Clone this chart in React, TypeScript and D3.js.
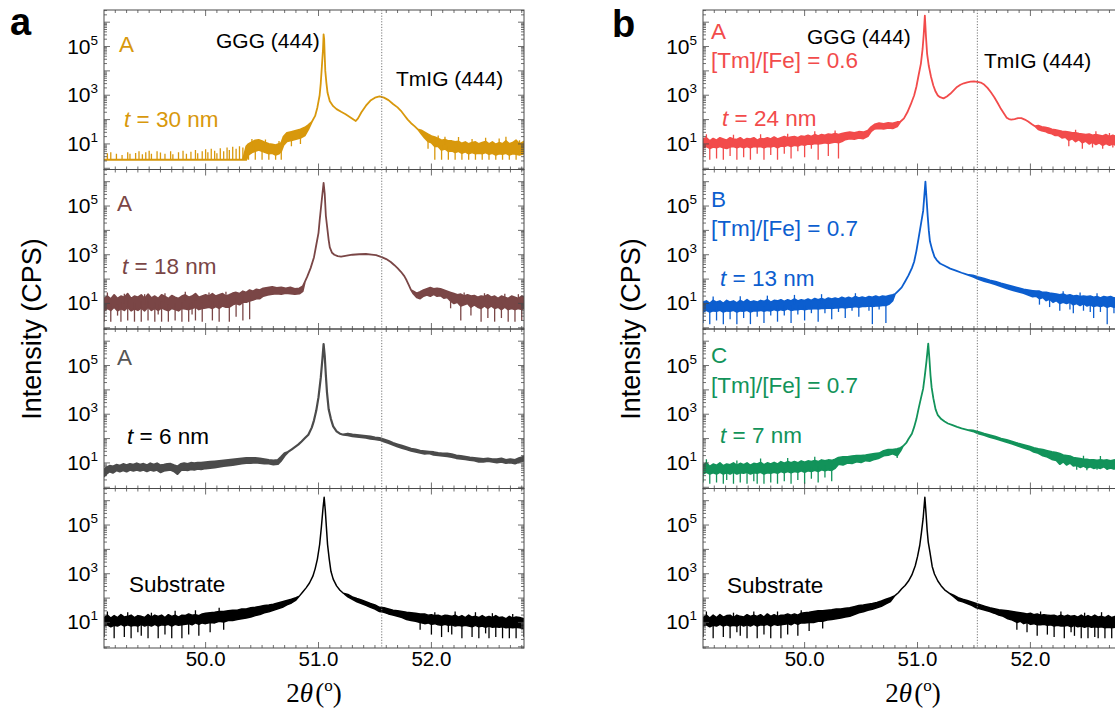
import React from "react";
import * as d3 from "d3";

// XRD 2θ-ω scans.
// point: [2θ (deg), log10 CPS band low, band high, optional spike tip]; one value = no visible noise
const scanA30nm: number[][] = [
  [49.10,0.35,0.35],[49.13,0.35,0.35,0.62],[49.16,0.35,0.35,0.66],[49.21,0.35,0.35,0.6],[49.26,0.35,0.35,0.55],[49.31,0.35,0.35,0.66],
  [49.33,0.35,0.35,0.6],[49.38,0.35,0.35,0.63],[49.41,0.35,0.35,0.7],[49.44,0.35,0.35,0.58],[49.47,0.35,0.35,0.66],[49.50,0.35,0.35,0.72],
  [49.52,0.35,0.35,0.6],[49.57,0.35,0.35,0.7],[49.60,0.35,0.35,0.65],[49.64,0.35,0.35,0.6],[49.69,0.35,0.35,0.7],[49.71,0.35,0.35,0.58],
  [49.76,0.35,0.35,0.66],[49.80,0.35,0.35,0.72],[49.83,0.35,0.35,0.6],[49.87,0.35,0.35,0.68],[49.91,0.35,0.35,0.75],[49.93,0.35,0.35,0.62],
  [49.97,0.35,0.35,0.7],[50.00,0.35,0.35,0.78],[50.02,0.35,0.35,0.66],[50.05,0.35,0.35,0.8],[50.08,0.35,0.35,0.72],[50.10,0.35,0.35,0.62],
  [50.13,0.35,0.35,0.82],[50.16,0.35,0.35,0.7],[50.19,0.35,0.35,0.85],[50.21,0.35,0.35,0.75],[50.24,0.35,0.35,0.88],[50.27,0.35,0.35,0.8],
  [50.30,0.35,0.35,0.9],[50.33,0.35,0.35,0.85],[50.36,0.35,0.9],[50.38,0.55,1.0,0.35],[50.41,0.65,1.08,1.2],[50.44,0.7,1.15,0.35],
  [50.47,0.75,1.17],[50.50,0.7,1.12,0.35],[50.53,0.65,1.05,1.18],[50.56,0.6,1.0,0.35],[50.59,0.62,0.98],[50.62,0.55,0.95,0.35],[50.65,0.6,1.0,1.12],
  [50.67,0.7,1.05,0.35],[50.69,0.95,1.3],[50.72,1.1,1.45],[50.76,1.15,1.5,0.9],[50.80,1.2,1.55],[50.84,1.25,1.6,1.0],[50.88,1.35,1.68],
  [50.91,1.6,1.78],[50.94,1.9],[50.97,2.15],[50.99,2.5],[51.01,3.0],[51.02,3.5],[51.03,4.2],[51.04,4.9],[51.045,5.5],[51.05,5.3],
  [51.055,4.6],[51.06,4.0],[51.07,3.5],[51.08,3.1],[51.10,2.75],[51.13,2.55],[51.16,2.43],[51.20,2.32],[51.24,2.22],[51.28,2.1],[51.31,2.0],
  [51.33,1.94],[51.35,2.05],[51.38,2.3],[51.42,2.57],[51.46,2.78],[51.50,2.9],[51.54,2.95],[51.58,2.9],[51.62,2.8],[51.66,2.64],[51.70,2.5],
  [51.73,2.36],[51.76,2.18],[51.79,2.0],[51.82,1.85],[51.85,1.73],[51.88,1.6],[51.91,1.42,1.56],[51.94,1.25,1.48],[51.97,1.1,1.4,0.8],
  [52.00,1.05,1.32],[52.03,0.9,1.28,0.35],[52.06,0.9,1.22,1.35],[52.09,0.75,1.15,0.35],[52.12,0.8,1.18,1.3],[52.15,0.7,1.12,0.35],[52.18,0.72,1.12],
  [52.21,0.65,1.08,0.35],[52.24,0.7,1.1,1.28],[52.27,0.62,1.02,0.35],[52.30,0.68,1.08],[52.33,0.6,1.0,0.35],[52.36,0.65,1.05,1.2],[52.39,0.6,1.08,0.35],
  [52.42,0.62,1.0],[52.45,0.6,1.05,0.35],[52.48,0.65,1.1,1.25],[52.51,0.58,1.0,0.35],[52.54,0.62,1.08],[52.57,0.55,0.98,0.35],[52.60,0.6,1.05,1.22],
  [52.63,0.58,1.0,0.35],[52.66,0.62,1.12,1.3],[52.69,0.55,1.0,0.35],[52.72,0.6,1.05],[52.75,0.58,1.15,0.35],[52.78,0.55,1.0,1.15],[52.82,0.6,1.1],
];

const scanA18nm: number[][] = [
  [49.10,0.7,1.2,0.25],[49.13,0.8,1.3,1.45],[49.16,0.72,1.18,0.25],[49.19,0.85,1.35],[49.22,0.7,1.2,0.5],[49.25,0.78,1.3,0.25],[49.28,0.72,1.25,1.4],
  [49.31,0.85,1.4,0.3],[49.34,0.7,1.2],[49.37,0.78,1.3,0.25],[49.40,0.72,1.25],[49.43,0.82,1.35,0.25],[49.46,0.7,1.2,1.38],[49.49,0.85,1.38,0.3],
  [49.52,0.72,1.22],[49.55,0.8,1.3,0.25],[49.58,0.72,1.2,0.55],[49.61,0.82,1.35,0.25],[49.64,0.75,1.28,1.42],[49.67,0.7,1.2,0.25],[49.70,0.8,1.32],
  [49.73,0.75,1.25,0.3],[49.76,0.7,1.2],[49.79,0.8,1.3,0.25],[49.82,0.78,1.35,1.48],[49.85,0.75,1.25,0.25],[49.88,0.8,1.3,0.55],[49.91,0.85,1.4,0.3],
  [49.94,0.75,1.25],[49.97,0.8,1.3,0.25],[50.00,0.82,1.35],[50.03,0.85,1.3,1.45],[50.06,0.8,1.4,0.3],[50.09,0.88,1.3],[50.12,0.8,1.35,0.25],
  [50.15,0.9,1.4],[50.18,0.85,1.3,1.48],[50.21,0.85,1.35,0.25],[50.24,0.95,1.42],[50.27,1.0,1.45,0.45],[50.30,0.95,1.4],[50.33,1.05,1.5,0.3],
  [50.36,1.05,1.45],[50.39,1.1,1.55,0.35],[50.42,1.15,1.5],[50.45,1.2,1.58],[50.48,1.2,1.55],[50.51,1.3,1.62],[50.55,1.35,1.65],[50.59,1.38,1.68],
  [50.63,1.4,1.64],[50.67,1.38,1.66],[50.71,1.42,1.62],[50.75,1.4,1.66],[50.79,1.38,1.6],[50.83,1.4,1.62],[50.86,1.5,1.7],[50.88,1.9],
  [50.90,2.1],[50.93,2.45],[50.96,2.9],[50.98,3.4],[51.00,3.9],[51.01,4.4],[51.03,5.3],[51.045,5.95],[51.055,5.5],[51.065,4.6],[51.08,4.0],
  [51.09,3.6],[51.10,3.3],[51.12,3.08],[51.14,3.0],[51.17,2.94],[51.20,2.92],[51.25,2.96],[51.30,3.0],[51.36,3.02],[51.42,3.03],[51.47,3.0],
  [51.51,2.98],[51.56,2.9],[51.60,2.82],[51.64,2.7],[51.67,2.58],[51.70,2.45],[51.73,2.3],[51.76,2.12],[51.78,1.95],[51.80,1.75],[51.82,1.55],
  [51.84,1.4,1.5],[51.87,1.25,1.42],[51.90,1.2,1.48],[51.93,1.3,1.55],[51.96,1.35,1.6],[51.99,1.3,1.65],[52.02,1.38,1.6],[52.05,1.3,1.62],
  [52.08,1.32,1.6],[52.11,1.22,1.55],[52.14,1.25,1.5],[52.17,1.1,1.45,0.8],[52.20,1.0,1.4],[52.23,1.05,1.35],[52.26,0.9,1.38,0.3],
  [52.29,0.95,1.3,1.45],[52.32,1.0,1.35],[52.35,0.85,1.3,0.5],[52.38,0.95,1.32],[52.41,0.85,1.25],[52.44,0.8,1.3,0.25],[52.47,0.9,1.28,1.42],
  [52.50,0.8,1.35,0.4],[52.53,0.9,1.25],[52.56,0.8,1.3,0.25],[52.59,0.85,1.2],[52.62,0.75,1.3,0.4],[52.65,0.85,1.25,1.4],[52.68,0.75,1.2,0.25],
  [52.71,0.8,1.3],[52.74,0.75,1.25,0.25],[52.77,0.8,1.2,1.38],[52.80,0.75,1.3,0.3],[52.82,0.8,1.25],
];

const scanA6nm: number[][] = [
  [49.10,0.45,0.7],[49.12,0.55,0.8],[49.15,0.65,0.88],[49.18,0.6,0.85],[49.21,0.7,0.92],[49.24,0.65,0.88],[49.27,0.7,0.95],[49.30,0.65,0.9],
  [49.33,0.72,0.95],[49.36,0.68,0.92],[49.39,0.72,0.98],[49.42,0.68,0.92],[49.45,0.72,0.96],[49.48,0.66,0.9],[49.51,0.72,0.98],[49.54,0.68,0.92],
  [49.57,0.72,0.98],[49.60,0.62,0.9],[49.63,0.68,0.92],[49.66,0.7,0.95],[49.69,0.72,0.96],[49.72,0.66,0.9],[49.75,0.55,0.85],[49.78,0.7,0.95],
  [49.81,0.72,0.98],[49.84,0.7,0.95],[49.87,0.74,1.0],[49.90,0.72,0.98],[49.93,0.76,1.0],[49.96,0.74,1.0],[50.00,0.78,1.02],[50.04,0.8,1.04],
  [50.08,0.82,1.06],[50.12,0.85,1.08],[50.16,0.88,1.1],[50.20,0.9,1.12],[50.24,0.92,1.14],[50.28,0.95,1.16],[50.32,0.98,1.18],[50.36,1.0,1.2],
  [50.40,1.0,1.2],[50.44,1.02,1.2],[50.48,1.0,1.18],[50.52,0.98,1.15],[50.56,0.98,1.12],[50.60,0.94,1.1],[50.64,0.96,1.12],[50.67,1.1,1.25],
  [50.70,1.3,1.4],[50.73,1.45],[50.76,1.55],[50.79,1.65],[50.82,1.75],[50.85,1.88],[50.88,2.02],[50.91,2.16],[50.94,2.45],[50.96,2.75],
  [50.98,3.15],[51.00,3.7],[51.02,4.5],[51.035,5.3],[51.045,5.88],[51.055,5.4],[51.065,4.6],[51.075,3.9],[51.09,3.2],[51.11,2.8],[51.13,2.5],
  [51.16,2.3],[51.19,2.2],[51.22,2.16],[51.26,2.14,2.2],[51.30,2.1,2.16],[51.34,2.08,2.14],[51.38,2.06,2.12],[51.42,2.04,2.1],[51.46,2.0,2.08],
  [51.50,1.98,2.04],[51.54,1.95,2.02],[51.58,1.88,1.96],[51.62,1.82,1.9],[51.66,1.75,1.82],[51.70,1.68,1.76],[51.74,1.62,1.7],[51.78,1.56,1.64],
  [51.82,1.5,1.58],[51.86,1.46,1.55],[51.90,1.42,1.5],[51.94,1.38,1.48],[51.98,1.4,1.46],[52.02,1.34,1.44],[52.06,1.32,1.4],[52.10,1.3,1.38],
  [52.14,1.28,1.38],[52.18,1.25,1.35],[52.22,1.2,1.3],[52.26,1.18,1.28],[52.30,1.15,1.25],[52.34,1.12,1.22],[52.38,1.1,1.2],[52.42,1.05,1.18],
  [52.46,1.05,1.16],[52.50,1.08,1.18],[52.54,1.05,1.15],[52.58,1.02,1.15],[52.62,1.05,1.18],[52.66,1.0,1.12],[52.70,1.02,1.15],[52.74,0.98,1.12],
  [52.78,1.05,1.2],[52.82,1.1,1.25],
];

const scanSubstrateA: number[][] = [
  [49.10,0.85,1.2,0.4],[49.13,0.9,1.3,1.45],[49.16,0.82,1.18],[49.19,0.88,1.28,0.35],[49.22,0.85,1.2],[49.25,0.92,1.32],[49.28,0.85,1.22,0.4],
  [49.31,0.9,1.25,1.42],[49.34,0.85,1.3,0.35],[49.37,0.88,1.2],[49.40,0.85,1.28,0.6],[49.43,0.92,1.25,0.45],[49.46,0.85,1.2],[49.49,0.9,1.32,0.35],
  [49.52,0.85,1.22,1.4],[49.55,0.92,1.3],[49.58,0.85,1.25,0.35],[49.61,0.9,1.3],[49.64,0.88,1.2,0.5],[49.67,0.92,1.32],[49.70,0.85,1.25,0.35],
  [49.73,0.92,1.3,1.48],[49.76,0.88,1.22],[49.79,0.9,1.3,0.35],[49.82,0.92,1.28],[49.85,0.95,1.35,0.5],[49.88,0.9,1.3],[49.91,0.98,1.32,1.5],
  [49.94,0.92,1.28,0.45],[49.97,0.98,1.35],[50.00,0.95,1.38],[50.04,1.0,1.4,0.6],[50.08,0.98,1.42],[50.12,1.05,1.45,1.6],[50.16,1.02,1.45,0.7],
  [50.20,1.08,1.48],[50.24,1.08,1.5],[50.28,1.12,1.5],[50.32,1.15,1.55],[50.36,1.18,1.55],[50.40,1.22,1.6],[50.44,1.28,1.62],[50.48,1.32,1.66],
  [50.52,1.4,1.7],[50.56,1.44,1.72],[50.60,1.5,1.75],[50.64,1.56,1.8],[50.68,1.62,1.85],[50.72,1.72,1.9],[50.76,1.8,1.95],[50.80,1.92,2.02],
  [50.83,2.08],[50.86,2.25],[50.89,2.42],[50.92,2.62],[50.95,2.9],[50.97,3.2],[50.99,3.6],[51.01,4.2],[51.025,4.9],[51.04,5.7],[51.05,6.14],
  [51.06,5.6],[51.07,4.9],[51.08,4.2],[51.095,3.6],[51.11,3.1],[51.13,2.78],[51.16,2.5],[51.19,2.32],[51.22,2.2],[51.26,2.05,2.15],
  [51.30,1.95,2.05],[51.34,1.85,1.98],[51.38,1.78,1.92],[51.42,1.7,1.85],[51.46,1.62,1.78],[51.50,1.55,1.72],[51.54,1.45,1.62],[51.58,1.42,1.6],
  [51.62,1.35,1.55],[51.66,1.3,1.5],[51.70,1.25,1.48],[51.74,1.2,1.45],[51.78,1.12,1.42],[51.82,1.08,1.4],[51.86,1.05,1.38],[51.90,1.0,1.35,0.7],
  [51.94,0.95,1.35],[51.97,0.98,1.3],[52.00,0.92,1.32,0.5],[52.03,0.95,1.28,1.42],[52.06,0.9,1.3],[52.09,0.88,1.25,0.4],[52.12,0.92,1.3],
  [52.15,0.88,1.28,0.6],[52.18,0.9,1.25,0.5],[52.21,0.85,1.3,1.45],[52.24,0.88,1.22],[52.27,0.85,1.28,0.35],[52.30,0.88,1.2],[52.33,0.85,1.3],
  [52.36,0.82,1.22,0.4],[52.39,0.88,1.25,1.42],[52.42,0.82,1.2,0.35],[52.45,0.85,1.28],[52.48,0.8,1.2,0.55],[52.51,0.85,1.25,0.35],[52.54,0.8,1.2,1.38],
  [52.57,0.82,1.28,0.4],[52.60,0.8,1.2],[52.63,0.82,1.22,0.35],[52.66,0.78,1.15],[52.69,0.8,1.25,0.35],[52.72,0.78,1.18,1.35],[52.75,0.8,1.22,0.35],
  [52.78,0.78,1.2],[52.82,0.75,1.15,0.4],
];

const scanB24nm: number[][] = [
  [49.10,0.85,1.2,0.5],[49.13,0.9,1.25,1.4],[49.16,0.82,1.12,0.35],[49.19,0.88,1.22],[49.22,0.85,1.15,0.4],[49.25,0.9,1.25],[49.28,0.85,1.2,0.35],
  [49.31,0.82,1.15],[49.34,0.88,1.25,0.5],[49.37,0.9,1.2,1.38],[49.40,0.85,1.18,0.35],[49.43,0.9,1.25],[49.46,0.85,1.15,0.45],[49.49,0.9,1.22],
  [49.52,0.85,1.2,0.35],[49.55,0.9,1.25],[49.58,0.88,1.15,0.6],[49.61,0.9,1.22,1.4],[49.64,0.85,1.2,0.35],[49.67,0.9,1.25],[49.70,0.88,1.2,0.55],
  [49.73,0.92,1.28],[49.76,0.85,1.2,0.35],[49.79,0.92,1.25],[49.82,0.9,1.3,0.6],[49.85,0.95,1.25,1.42],[49.88,0.9,1.28,0.4],[49.91,0.95,1.3],
  [49.94,0.92,1.25,0.7],[49.97,0.98,1.32],[50.00,0.95,1.3,0.45],[50.03,1.0,1.35],[50.06,0.98,1.3,0.8],[50.09,1.02,1.38,1.52],[50.12,1.0,1.32,0.35],
  [50.15,1.02,1.38],[50.18,1.05,1.35],[50.21,1.02,1.4,0.5],[50.24,1.05,1.38],[50.27,1.08,1.42,1.55],[50.30,1.05,1.38,0.4],[50.33,1.1,1.42],
  [50.36,1.18,1.45],[50.40,1.22,1.48],[50.44,1.2,1.45],[50.48,1.25,1.5],[50.52,1.22,1.48],[50.56,1.32,1.55],[50.59,1.52,1.7],[50.62,1.62,1.8],
  [50.66,1.64,1.85],[50.70,1.62,1.82],[50.74,1.66,1.86],[50.78,1.64,1.84],[50.82,1.72,1.9],[50.85,1.92],[50.88,2.05],[50.91,2.3],[50.94,2.62],
  [50.97,2.99],[50.99,3.35],[51.01,3.83],[51.03,4.3],[51.045,4.9],[51.055,5.5],[51.065,6.27],[51.075,5.4],[51.085,4.7],[51.10,4.2],[51.12,3.75],
  [51.14,3.4],[51.16,3.15],[51.18,2.99],[51.20,2.92],[51.23,2.87],[51.26,2.95],[51.29,3.06],[51.32,3.2],[51.35,3.34],[51.38,3.43],[51.41,3.49],
  [51.44,3.53],[51.47,3.56],[51.50,3.57],[51.53,3.55],[51.56,3.52],[51.59,3.44],[51.62,3.3],[51.65,3.12],[51.68,2.92],[51.71,2.68],[51.74,2.43],
  [51.77,2.22],[51.79,2.08],[51.81,2.02],[51.83,2.0],[51.86,2.02],[51.89,2.06],[51.92,2.06],[51.95,2.0],[51.98,1.92],[52.01,1.82],[52.04,1.73],
  [52.07,1.6,1.75],[52.10,1.55,1.7],[52.13,1.52,1.68],[52.16,1.45,1.65],[52.19,1.42,1.6],[52.22,1.35,1.58],[52.25,1.35,1.55],[52.28,1.25,1.52],
  [52.31,1.28,1.5],[52.34,1.15,1.48,0.9],[52.37,1.22,1.45],[52.40,1.1,1.45,1.58],[52.43,1.18,1.42],[52.46,1.05,1.4,0.8],[52.49,1.12,1.38],
  [52.52,1.0,1.4],[52.55,1.08,1.35,0.85],[52.58,0.98,1.38,1.52],[52.61,1.05,1.35],[52.64,0.95,1.32,0.8],[52.67,1.02,1.38],[52.70,0.95,1.3,1.45],
  [52.73,1.0,1.35,0.85],[52.76,0.95,1.3],[52.82,0.98,1.32],
];

const scanB13nm: number[][] = [
  [49.10,0.65,1.05,0.2],[49.13,0.72,1.1],[49.16,0.65,1.0,0.15],[49.19,0.7,1.12,1.28],[49.22,0.68,1.05,0.3],[49.25,0.72,1.1],[49.28,0.65,1.0,0.15],
  [49.31,0.7,1.12],[49.34,0.68,1.05,0.35],[49.37,0.72,1.1],[49.40,0.65,1.02,0.15],[49.43,0.7,1.12,1.3],[49.46,0.68,1.05,0.4],[49.49,0.72,1.15],
  [49.52,0.65,1.05,0.15],[49.55,0.7,1.1],[49.58,0.7,1.05,0.45],[49.61,0.72,1.12],[49.64,0.68,1.08,0.2],[49.67,0.72,1.15,1.32],[49.70,0.7,1.05,0.5],
  [49.73,0.75,1.12],[49.76,0.7,1.1,0.25],[49.79,0.75,1.15],[49.82,0.72,1.08,0.5],[49.85,0.78,1.15],[49.88,0.72,1.1,0.2],[49.91,0.75,1.18,1.35],
  [49.94,0.75,1.1,0.55],[49.97,0.78,1.15],[50.00,0.75,1.12,0.3],[50.03,0.78,1.18],[50.06,0.78,1.12,0.6],[50.09,0.8,1.2],[50.12,0.78,1.15,0.25],
  [50.15,0.8,1.2,1.38],[50.18,0.8,1.15,0.6],[50.21,0.82,1.22],[50.24,0.8,1.18,0.35],[50.27,0.82,1.22],[50.30,0.82,1.18,0.65],[50.33,0.85,1.25],
  [50.36,0.82,1.2,0.4],[50.39,0.85,1.25],[50.42,0.85,1.2,0.7],[50.45,0.88,1.28,1.42],[50.48,0.85,1.22,0.45],[50.51,0.88,1.26],[50.54,0.88,1.22],
  [50.57,0.9,1.28,0.7],[50.60,0.88,1.25,0.15],[50.63,0.9,1.3],[50.66,0.9,1.25,0.75],[50.69,0.92,1.3],[50.72,0.92,1.28,0.2],[50.75,0.98,1.32],
  [50.78,1.12,1.35],[50.80,1.38],[50.83,1.52],[50.86,1.66],[50.89,1.9],[50.92,2.15],[50.95,2.45],[50.97,2.71],[50.99,3.15],[51.01,3.69],
  [51.03,4.25],[51.05,4.8],[51.06,5.4],[51.07,6.0],[51.08,5.3],[51.09,4.6],[51.10,4.0],[51.11,3.55],[51.13,3.2],[51.15,2.92],[51.17,2.78],
  [51.20,2.64],[51.24,2.55],[51.29,2.43],[51.34,2.35],[51.39,2.26],[51.44,2.18],[51.49,2.1,2.15],[51.54,2.0,2.08],[51.59,1.92,2.02],
  [51.64,1.85,1.95],[51.69,1.78,1.9],[51.74,1.7,1.82],[51.79,1.62,1.76],[51.84,1.55,1.7],[51.89,1.48,1.64],[51.94,1.42,1.58],[51.98,1.35,1.55],
  [52.02,1.28,1.52],[52.05,1.3,1.5],[52.08,1.2,1.5,0.95],[52.11,1.25,1.45],[52.14,1.12,1.45],[52.17,1.18,1.42,0.85],[52.20,1.05,1.4],
  [52.23,1.12,1.38],[52.26,1.0,1.35,0.7],[52.29,1.05,1.38,1.5],[52.32,1.0,1.32],[52.35,1.05,1.35,0.75],[52.38,0.95,1.3,0.6],[52.41,1.0,1.32],
  [52.44,0.92,1.28,1.45],[52.47,1.0,1.3,0.7],[52.50,0.9,1.28],[52.53,0.95,1.3,0.65],[52.56,0.88,1.25,0.4],[52.59,0.92,1.28,1.42],[52.62,0.88,1.22,0.65],
  [52.65,0.92,1.28],[52.68,0.85,1.25,0.15],[52.71,0.9,1.28],[52.74,0.85,1.22,0.6],[52.77,0.9,1.25,1.4],[52.82,0.85,1.22],
];

const scanC7nm: number[][] = [
  [49.10,0.55,0.9,0.2],[49.13,0.62,1.0,1.15],[49.16,0.55,0.85,0.15],[49.19,0.6,0.95],[49.22,0.55,0.9,0.2],[49.25,0.62,1.0],[49.28,0.55,0.88,0.15],
  [49.31,0.6,0.95,0.3],[49.34,0.55,0.92],[49.37,0.62,1.0,0.15],[49.40,0.55,0.9,1.1],[49.43,0.6,0.98,0.2],[49.46,0.58,0.92],[49.49,0.62,1.0,0.15],
  [49.52,0.55,0.9],[49.55,0.6,0.98,0.25],[49.58,0.58,0.95,0.15],[49.61,0.62,1.02,1.18],[49.64,0.55,0.92,0.15],[49.67,0.6,1.0],[49.70,0.58,0.95,0.2],
  [49.73,0.62,1.02],[49.76,0.58,0.95,0.15],[49.79,0.65,1.05],[49.82,0.6,0.98,0.25],[49.85,0.65,1.05,1.2],[49.88,0.6,1.0,0.15],[49.91,0.65,1.05],
  [49.94,0.62,1.0,0.3],[49.97,0.68,1.08],[50.00,0.62,1.02,0.15],[50.03,0.68,1.08],[50.06,0.65,1.05,0.35],[50.09,0.7,1.1,1.25],[50.12,0.65,1.05,0.2],
  [50.15,0.72,1.12],[50.18,0.68,1.08,0.4],[50.21,0.72,1.12],[50.24,0.7,1.1,0.25],[50.27,0.78,1.15],[50.30,0.95,1.22],[50.34,0.92,1.25],
  [50.38,1.0,1.25],[50.42,0.98,1.28],[50.46,1.05,1.3],[50.50,1.02,1.3],[50.54,1.1,1.32],[50.58,1.08,1.35],[50.62,1.15,1.38],[50.66,1.2,1.4],
  [50.70,1.3,1.5],[50.74,1.32,1.55],[50.78,1.38,1.55],[50.82,1.3,1.58,1.2],[50.85,1.5,1.62],[50.87,1.68],[50.90,1.82],[50.92,1.98],[50.95,2.2],
  [50.97,2.47],[50.99,2.8],[51.01,3.24],[51.03,3.65],[51.05,4.05],[51.065,4.6],[51.08,5.2],[51.095,5.9],[51.105,5.3],[51.115,4.6],[51.125,4.1],
  [51.14,3.66],[51.16,3.2],[51.18,2.96],[51.21,2.8],[51.24,2.7],[51.27,2.62],[51.31,2.55],[51.35,2.48],[51.39,2.42],[51.44,2.36],
  [51.49,2.3,2.34],[51.54,2.2,2.28],[51.59,2.14,2.2],[51.64,2.06,2.14],[51.69,2.0,2.08],[51.74,1.93,2.0],[51.79,1.85,1.95],[51.84,1.78,1.88],
  [51.89,1.7,1.8],[51.94,1.62,1.74],[51.99,1.55,1.68],[52.03,1.45,1.62],[52.07,1.4,1.58],[52.11,1.3,1.55],[52.15,1.25,1.5],[52.19,1.15,1.45],
  [52.23,1.1,1.42],[52.26,0.95,1.38],[52.29,1.05,1.32],[52.32,0.92,1.3],[52.35,1.0,1.28],[52.38,0.88,1.22],[52.41,0.9,1.2,0.72],[52.44,0.82,1.18],
  [52.47,0.88,1.15,1.3],[52.50,0.8,1.15,0.7],[52.53,0.85,1.12],[52.56,0.78,1.12],[52.59,0.82,1.1,0.72],[52.62,0.78,1.12,1.28],[52.65,0.85,1.1],
  [52.68,0.75,1.12,0.72],[52.71,0.8,1.08],[52.74,0.75,1.12],[52.77,0.82,1.1,1.25],[52.82,0.78,1.1],
];

const scanSubstrateB: number[][] = [
  [49.10,0.85,1.2,0.4],[49.13,0.9,1.3,1.45],[49.16,0.82,1.18],[49.19,0.88,1.3,0.35],[49.22,0.85,1.2],[49.25,0.92,1.32],[49.28,0.85,1.22,0.4],
  [49.31,0.9,1.28],[49.34,0.85,1.3,0.35],[49.37,0.88,1.2,1.4],[49.40,0.85,1.3,0.6],[49.43,0.92,1.25,0.45],[49.46,0.85,1.22],[49.49,0.9,1.32,0.35],
  [49.52,0.85,1.25],[49.55,0.92,1.3,1.45],[49.58,0.85,1.25,0.35],[49.61,0.9,1.32],[49.64,0.88,1.22,0.5],[49.67,0.92,1.35],[49.70,0.85,1.25,0.35],
  [49.73,0.92,1.32],[49.76,0.88,1.25,1.45],[49.79,0.9,1.3,0.35],[49.82,0.92,1.3],[49.85,0.95,1.35,0.5],[49.88,0.9,1.3],[49.91,0.98,1.35],
  [49.94,0.92,1.3,0.45],[49.97,0.98,1.38,1.5],[50.00,0.98,1.4],[50.04,1.0,1.42,0.65],[50.08,1.0,1.45],[50.12,1.05,1.48],[50.16,1.05,1.48,0.75],
  [50.20,1.1,1.5],[50.24,1.12,1.52],[50.28,1.15,1.55],[50.32,1.18,1.55],[50.36,1.22,1.58],[50.40,1.25,1.6],[50.44,1.32,1.65],[50.48,1.4,1.7],
  [50.52,1.44,1.72],[50.56,1.5,1.75],[50.60,1.54,1.78],[50.64,1.6,1.82],[50.68,1.66,1.88],[50.72,1.76,1.95],[50.76,1.86,2.02],[50.80,2.1],
  [50.83,2.22],[50.86,2.38],[50.89,2.52],[50.92,2.7],[50.95,2.95],[50.98,3.33],[51.00,3.7],[51.02,4.17],[51.035,4.7],[51.05,5.28],[51.065,6.14],
  [51.075,5.5],[51.085,4.8],[51.095,4.3],[51.11,3.89],[51.13,3.3],[51.15,2.99],[51.18,2.7],[51.21,2.5],[51.24,2.34],[51.28,2.2],
  [51.32,2.06,2.12],[51.36,1.9,2.02],[51.40,1.85,1.95],[51.44,1.78,1.9],[51.48,1.7,1.84],[51.52,1.6,1.78],[51.56,1.55,1.72],[51.60,1.5,1.66],
  [51.64,1.45,1.6],[51.68,1.38,1.56],[51.72,1.3,1.52],[51.76,1.25,1.5],[51.80,1.15,1.48],[51.84,1.1,1.45],[51.88,1.0,1.42,0.7],[51.91,1.05,1.4],
  [51.94,0.95,1.38],[51.97,1.0,1.35,0.6],[52.00,0.92,1.38],[52.03,0.95,1.32],[52.06,0.9,1.35,0.45],[52.09,0.9,1.3,1.45],[52.12,0.92,1.32],
  [52.15,0.88,1.3,0.5],[52.18,0.9,1.28],[52.21,0.85,1.3,0.4],[52.24,0.88,1.25],[52.27,0.85,1.3,1.45],[52.30,0.85,1.25,0.35],[52.33,0.88,1.3],
  [52.36,0.82,1.25,0.6],[52.39,0.88,1.28,0.45],[52.42,0.82,1.22],[52.45,0.85,1.3,0.35],[52.48,0.8,1.22,1.4],[52.51,0.85,1.28,0.35],[52.54,0.8,1.22],
  [52.57,0.82,1.3,0.4],[52.60,0.8,1.22,0.35],[52.63,0.82,1.25,1.42],[52.66,0.78,1.2,0.35],[52.69,0.8,1.28],[52.72,0.78,1.2,0.35],[52.75,0.8,1.25],
  [52.82,0.75,1.2,0.35],
];

const xDomain: [number, number] = [49.1, 52.82];
const logRange: [number, number] = [-0.05, 6.5];
const xTickLabels = [50, 51, 52];
const yTickExponents = [1, 3, 5];
const tmigPeakPos = [51.56, 51.53]; // dotted reference, panel a / b

const SANS = "'Liberation Sans', Arial, Helvetica, sans-serif";
const SERIF = "'Liberation Serif', 'Times New Roman', serif";
const TOP = 10;
const ROW_H = 159.5;
const PLOT_W = 420;
const W = 1115;
const H = 708;

type Note = { text: string; x: number; y: number; color: string; nm?: string; size?: number };
type Row = { data: number[][]; color: string; width: number; notes: Note[] };

const ORANGE = "#d8980c";
const BROWN = "#7a4646";
const GRAY = "#4b4b4b";
const RED = "#f24b4b";
const BLUE = "#0c5ecf";
const GREEN = "#12935a";

const panels: { letter: string; left: number; letterX: number; letterY: number; rows: Row[] }[] = [
  {
    letter: "a", left: 104, letterX: 10, letterY: 35,
    rows: [
      { data: scanA30nm, color: ORANGE, width: 1.8, notes: [
        { text: "A", x: 15, y: 42, color: ORANGE },
        { text: "GGG (444)", x: 112, y: 38, color: "#000", size: 21 },
        { text: "TmIG (444)", x: 292, y: 76, color: "#000", size: 21 },
        { text: "", nm: "30", x: 20, y: 117, color: ORANGE },
      ] },
      { data: scanA18nm, color: BROWN, width: 1.8, notes: [
        { text: "A", x: 13, y: 41, color: BROWN },
        { text: "", nm: "18", x: 18, y: 104, color: BROWN },
      ] },
      { data: scanA6nm, color: GRAY, width: 2.2, notes: [
        { text: "A", x: 13, y: 36, color: "#555" },
        { text: "", nm: "6", x: 23, y: 115, color: "#000" },
      ] },
      { data: scanSubstrateA, color: "#000", width: 1.5, notes: [
        { text: "Substrate", x: 25, y: 103, color: "#000" },
      ] },
    ],
  },
  {
    letter: "b", left: 703, letterX: 612, letterY: 37,
    rows: [
      { data: scanB24nm, color: RED, width: 1.8, notes: [
        { text: "A", x: 8, y: 29, color: RED },
        { text: "[Tm]/[Fe] = 0.6", x: 8, y: 58, color: RED },
        { text: "GGG (444)", x: 104, y: 34, color: "#000", size: 21 },
        { text: "TmIG (444)", x: 281, y: 58, color: "#000", size: 21 },
        { text: "", nm: "24", x: 19, y: 116, color: RED },
      ] },
      { data: scanB13nm, color: BLUE, width: 1.8, notes: [
        { text: "B", x: 8, y: 37, color: BLUE },
        { text: "[Tm]/[Fe] = 0.7", x: 8, y: 66, color: BLUE },
        { text: "", nm: "13", x: 17, y: 116, color: BLUE },
      ] },
      { data: scanC7nm, color: GREEN, width: 1.8, notes: [
        { text: "C", x: 8, y: 34, color: GREEN },
        { text: "[Tm]/[Fe] = 0.7", x: 8, y: 64, color: GREEN },
        { text: "", nm: "7", x: 17, y: 114, color: GREEN },
      ] },
      { data: scanSubstrateB, color: "#000", width: 1.5, notes: [
        { text: "Substrate", x: 24, y: 104, color: "#000" },
      ] },
    ],
  },
];

const FRAME = "#4a4a4a";

type Pt = { t: number; lo: number; hi: number; spike: number | null };

function Subplot({ left, top, row, id, refPos, bottom }: { left: number; top: number; row: Row; id: string; refPos: number; bottom: boolean }) {
  const x = d3.scaleLinear().domain(xDomain).range([left, left + PLOT_W]);
  const y = d3.scaleLog().domain([Math.pow(10, logRange[0]), Math.pow(10, logRange[1])]).range([top + ROW_H, top]);
  const pts: Pt[] = row.data.map((d) => ({
    t: d[0],
    lo: Math.pow(10, d[1]),
    hi: Math.pow(10, d.length > 2 ? d[2] : d[1]),
    spike: d.length > 3 ? Math.pow(10, d[3]) : null,
  }));
  const area = d3.area<Pt>().x((d) => x(d.t)).y0((d) => y(d.lo)).y1((d) => y(d.hi));

  const xMinor = d3.range(492, 529).map((v) => v / 10);
  const yTicks = y.ticks();
  const isDecade = (v: number) => Math.abs(Math.log10(v) - Math.round(Math.log10(v))) < 1e-9;

  return (
    <g>
      <clipPath id={id}>
        <rect x={left} y={top} width={PLOT_W} height={ROW_H} />
      </clipPath>
      <g clipPath={`url(#${id})`}>
        <path d={area(pts) || ""} fill={row.color} stroke={row.color} strokeWidth={row.width} strokeLinejoin="round" />
        {pts.filter((p) => p.spike !== null).map((p, i) => (
          <line key={i} x1={x(p.t)} x2={x(p.t)} y1={(y(p.lo) + y(p.hi)) / 2} y2={y(p.spike as number)}
            stroke={row.color} strokeWidth={1.3} />
        ))}
      </g>
      {xMinor.map((v) => {
        const major = Math.abs(v - Math.round(v)) < 1e-6;
        const len = major ? 6 : 3;
        return (
          <g key={`x${v}`} stroke={FRAME} strokeWidth={0.8}>
            <line x1={x(v)} x2={x(v)} y1={top} y2={top + len} />
            <line x1={x(v)} x2={x(v)} y1={top + ROW_H} y2={top + ROW_H - len} />
          </g>
        );
      })}
      {yTicks.map((v, i) => {
        const len = isDecade(v) ? 6 : 3;
        return (
          <g key={`y${i}`} stroke={FRAME} strokeWidth={0.8}>
            <line x1={left} x2={left + len} y1={y(v)} y2={y(v)} />
            <line x1={left + PLOT_W} x2={left + PLOT_W - len} y1={y(v)} y2={y(v)} />
          </g>
        );
      })}
      <rect x={left} y={top} width={PLOT_W} height={ROW_H} fill="none" stroke={FRAME} strokeWidth={1} />
      <line x1={x(refPos)} x2={x(refPos)} y1={top} y2={top + ROW_H} stroke="#777" strokeWidth={1} strokeDasharray="1.2,1.6" />
      {yTickExponents.map((e) => (
        <text key={`yl${e}`} x={left - 6} y={y(Math.pow(10, e)) + 7} textAnchor="end" fontFamily={SANS} fontSize={21} fill="#000">
          10<tspan dy={-9} fontSize={13.5}>{e}</tspan>
        </text>
      ))}
      {bottom && xTickLabels.map((v) => (
        <text key={`xl${v}`} x={x(v)} y={top + ROW_H + 18} textAnchor="middle" fontFamily={SANS} fontSize={20.5} fill="#000">
          {v.toFixed(1)}
        </text>
      ))}
      {row.notes.map((n, i) => (
        <text key={`n${i}`} x={left + n.x} y={top + n.y} fontFamily={SANS} fontSize={n.size ?? 22.5} fill={n.color}>
          {n.nm ? (
            <>
              <tspan fontStyle="italic">t</tspan>
              {` = ${n.nm} nm`}
            </>
          ) : n.text}
        </text>
      ))}
    </g>
  );
}

export default function App() {
  return (
    <>
      <style>{`body{margin:0;overflow:hidden;background:#fff}`}</style>
      <svg width={W} height={H} style={{ display: "block", background: "#fff" }}>
        {panels.map((p, pi) => (
          <g key={p.letter}>
            <text x={p.letterX} y={p.letterY} fontFamily={SANS} fontWeight="bold" fontSize={38} fill="#000">{p.letter}</text>
            {p.rows.map((r, ri) => (
              <Subplot
                key={ri}
                left={p.left}
                top={TOP + ri * ROW_H}
                row={r}
                id={`clip-${p.letter}-${ri}`}
                refPos={tmigPeakPos[pi]}
                bottom={ri === p.rows.length - 1}
              />
            ))}
            <text
              transform={`translate(${p.left - 72},${TOP + 2 * ROW_H}) rotate(-90)`}
              textAnchor="middle"
              dy="0.35em"
              fontFamily={SANS}
              fontSize={27}
              fill="#000"
            >
              Intensity (CPS)
            </text>
            <text x={p.left + PLOT_W / 2} y={702} textAnchor="middle" fontFamily={SERIF} fontSize={27} fill="#000">
              2<tspan fontStyle="italic">θ</tspan>
              <tspan dx={2}>(</tspan>
              <tspan dy={-11} fontSize={17}>o</tspan>
              <tspan dy={11}>)</tspan>
            </text>
          </g>
        ))}
      </svg>
    </>
  );
}
